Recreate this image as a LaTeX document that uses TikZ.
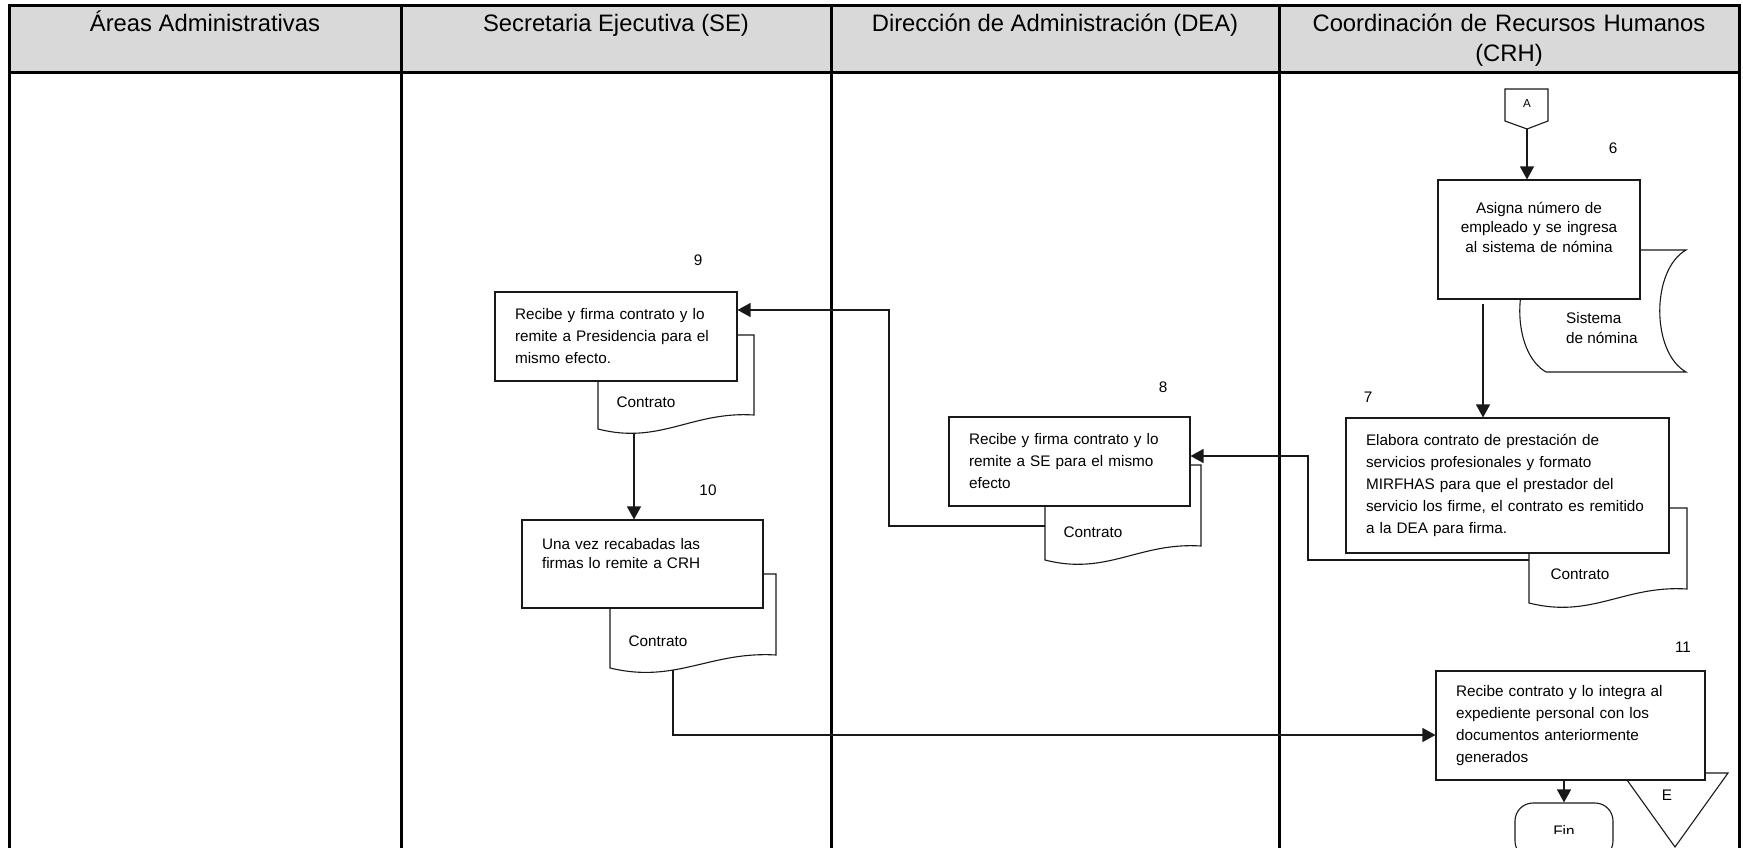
\documentclass[tikz,border=0pt]{standalone}
\usepackage{fontspec}
\setmainfont{Liberation Sans}
\usepackage{tikz}
\usetikzlibrary{arrows.meta, positioning, calc}
\usepackage{xcolor}
\definecolor{headgray}{RGB}{217,217,217}
\definecolor{ink}{RGB}{25,25,25}

\begin{document}
\begin{tikzpicture}[x=1pt, y=-1pt,
  lane/.style={line width=3pt, black},
  headtxt/.style={font={\fontsize{23.8}{30}\selectfont}, inner sep=0pt, anchor=base},
  body/.style={font={\fontsize{15.3}{22}\selectfont}, inner sep=0pt},
  tight/.style={font={\fontsize{15.3}{19.5}\selectfont}},
  proc/.style={draw=ink, fill=white, line width=1.1pt, body, align=left, inner xsep=20pt, inner ysep=0pt},
  shp/.style={draw=ink, fill=white, line width=1.1pt},
  arr/.style={draw=ink, line width=1.2pt, -{Triangle[length=13pt, width=14pt]}}
]
  \useasboundingbox (0,0) rectangle (1743,848);
  \clip (0,0) rectangle (1743,848);
  \fill[white] (0,0) rectangle (1743,848);
  % Lanes
  \fill[headgray] (9,6) rectangle (1739,72.5);
  \draw[lane] (9,848) -- (9,6) -- (1739,6) -- (1739,848);
  \draw[lane] (9,72.5) -- (1739,72.5);
  \foreach \x in {401,831,1279}
    \draw[lane] (\x,6) -- (\x,848);
  \node[headtxt] (hAreas) at (205,32) {Áreas Administrativas};
  \node[headtxt] (hSE) at (616,32) {Secretaria Ejecutiva (SE)};
  \node[headtxt] (hDEA) at (1055,32) {Dirección de Administración (DEA)};
  \node[headtxt, text width=440pt, align=center] (hCRH) at (1509,32) {Coordinación de Recursos Humanos\\(CRH)};

  % Storage, documents and archive (behind the boxes)
  \draw[shp] (1546,250) -- (1686,250) .. controls (1651,270) and (1651,352) .. (1686,372) -- (1546,372) .. controls (1511,352) and (1511,270) .. (1546,250) -- cycle;
  \draw[shp] (598,335) -- (598,429) .. controls +(62,16) and +(-62,-4) .. (754,415) -- (754,335) -- cycle;
  \draw[shp] (610,574) -- (610,668) .. controls +(66,16) and +(-66,-4) .. (776,655) -- (776,574) -- cycle;
  \draw[shp] (1045,465) -- (1045,560) .. controls +(62,16) and +(-62,-4) .. (1201,546) -- (1201,465) -- cycle;
  \draw[shp] (1529,508) -- (1529,603) .. controls +(63,16) and +(-63,-4) .. (1687,589) -- (1687,508) -- cycle;
  \draw[shp] (1622,773) -- (1728,773) -- (1675,847) -- cycle;
  \node[body, align=left, tight, font={\fontsize{15.3}{20}\selectfont}, anchor=west] (sisTxt) at (1566,328) {Sistema\\de nómina};
  \node[body] (doc9) at (646,402) {Contrato};
  \node[body] (doc10) at (658,641) {Contrato};
  \node[body] (doc8) at (1093,532) {Contrato};
  \node[body] (doc7) at (1580,574) {Contrato};
  \node[body] (archE) at (1667,795) {E};

  % Off-page connector
  \draw[shp] (1505,89) -- (1548,89) -- (1548,121) -- (1527,129) -- (1505,121) -- cycle;
  \node[body, font={\fontsize{11.6}{13}\selectfont}] (conA) at (1527,104) {A};
  \coordinate (conAtip) at (1527,129);

  % Steps
  \node[proc, align=center, tight, text width=162pt, minimum width=202pt, minimum height=119pt, text depth=64pt] (box6) at (1539,239.5) {Asigna número de\\empleado y se ingresa\\al sistema de nómina};
  \node[proc, text width=283pt, minimum width=323pt, minimum height=135pt] (box7) at (1507.5,485.5) {Elabora contrato de prestación de\\servicios profesionales y formato\\MIRFHAS para que el prestador del\\servicio los firme, el contrato es remitido\\a la DEA para firma.};
  \node[proc, text width=201pt, minimum width=241pt, minimum height=89pt] (box8) at (1069.5,461.5) {Recibe y firma contrato y lo\\remite a SE para el mismo\\efecto};
  \node[proc, text width=202pt, minimum width=242pt, minimum height=89pt] (box9) at (616,336.5) {Recibe y firma contrato y lo\\remite a Presidencia para el\\mismo efecto.};
  \node[proc, tight, text width=201pt, minimum width=241pt, minimum height=88pt, text depth=41pt] (box10) at (642.5,564) {Una vez recabadas las\\firmas lo remite a CRH};
  \node[proc, text width=229pt, minimum width=269pt, minimum height=109pt] (box11) at (1570.5,725.5) {Recibe contrato y lo integra al\\expediente personal con los\\documentos anteriormente\\generados};
  \node[body] (n6) at (1613,148) {6};
  \node[body] (n7) at (1368,397) {7};
  \node[body] (n8) at (1163,387) {8};
  \node[body] (n9) at (698,260) {9};
  \node[body] (n10) at (708,490) {10};
  \node[body] (n11) at (1683,647) {11};

  % End
  \node[shp, rounded corners=18pt, minimum width=98pt, minimum height=56pt] (fin) at (1564,831) {};
  \begin{scope}
    \clip (1500,800) rectangle (1630,833.5);
    \node[body] (finTxt) at (1564,830.5) {Fin};
  \end{scope}

  % Flow
  \draw[arr] (conAtip) -- (conAtip |- box6.north);
  \coordinate (c67) at (1483,304);
  \draw[arr] (c67) -- (c67 |- box7.north);
  \coordinate (d7w) at (1529,560);
  \coordinate (j8) at (1308,456);
  \draw[arr] (d7w) -| (j8) -- (j8 -| box8.east);
  \coordinate (d8w) at (1045,526);
  \coordinate (j9) at (889,310);
  \draw[arr] (d8w) -| (j9) -- (j9 -| box9.east);
  \coordinate (d9s) at (634,433);
  \draw[arr] (d9s) -- (d9s |- box10.north);
  \coordinate (d10s) at (673,670);
  \coordinate (j11) at (673,735);
  \draw[arr] (d10s) -- (j11) -- (j11 -| box11.west);
  \draw[arr] (fin.north |- box11.south) -- (fin.north);
\end{tikzpicture}
\end{document}
